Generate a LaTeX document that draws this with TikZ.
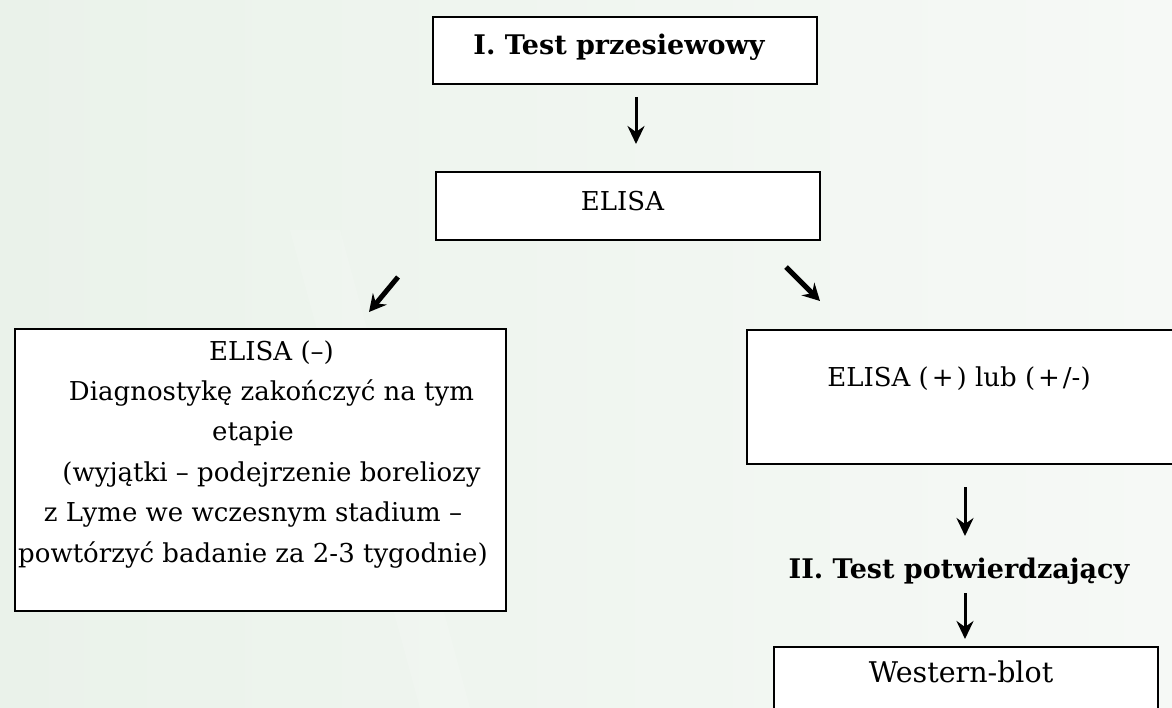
\documentclass[tikz,border=0pt]{standalone}
\usepackage{fontspec}
\setmainfont{DejaVu Serif}
\usetikzlibrary{arrows.meta}
\definecolor{bgL}{HTML}{EAF2EA}
\definecolor{bgR}{HTML}{F6F9F6}
\begin{document}
\begin{tikzpicture}[x=1pt,y=-1pt,
  box/.style={draw=black,line width=1.3pt,fill=white,inner sep=0pt},
  txt/.style={font=\fontsize{26}{40.4}\selectfont,anchor=base,inner sep=0pt},
  btxt/.style={font=\fontsize{27}{40}\selectfont\bfseries,anchor=base,inner sep=0pt},
  varrow/.style={line width=3pt,-{Stealth[length=18pt,width=17pt,inset=6pt]}},
  darrow/.style={line width=5pt,-{Stealth[length=17pt,width=18pt,inset=6pt]}}]
\clip (0,0) rectangle (1172,708);
\shade[left color=bgL,right color=bgR] (0,0) rectangle (1172,708);
\fill[white,opacity=0.15] (290,230) -- (340,230) -- (470,708) -- (420,708) -- cycle;

% boxes
\node[box,minimum width=384pt,minimum height=67pt] (b1) at (625,50.5) {};
\node[box,minimum width=384pt,minimum height=68pt] (b2) at (628,206) {};
\node[box,minimum width=491pt,minimum height=282pt] (b3) at (260.5,470) {};
\node[box,minimum width=450pt,minimum height=134pt] (b4) at (972,397) {};
\node[box,minimum width=384pt,minimum height=80pt] (b5) at (966,687) {};

% texts
\node[btxt] (t1) at (619,55) {I. Test przesiewowy};
\node[txt] (t2) at (622.5,211) {ELISA};
\node[txt,align=center] (t3) at (253,562) {\hspace*{37pt}ELISA (–)\\
\hspace*{37pt}Diagnostykę zakończyć na tym\\
etapie\\
\hspace*{37pt}(wyjątki – podejrzenie boreliozy\\
z Lyme we wczesnym stadium –\\
powtórzyć badanie za 2-3 tygodnie)};
\node[txt] (t4) at (959,386) {ELISA (\kern3pt+\kern3pt) lub (\kern3pt+\kern3pt/-)};
\node[btxt] (t5) at (959,578) {II. Test potwierdzający};
\node[txt,font=\fontsize{28.5}{34}\selectfont] (t6) at (961,682) {Western-blot};

% arrow end points
\coordinate (a1s) at (636,97);  \coordinate (a1e) at (636,144);
\coordinate (a2s) at (398,277); \coordinate (a2e) at (369,312);
\coordinate (a3s) at (786,267); \coordinate (a3e) at (820,301);
\coordinate (a4s) at (965,487); \coordinate (a4e) at (965,536);
\coordinate (a5s) at (965,593); \coordinate (a5e) at (965,639);

\draw[varrow] (a1s) -- (a1e);
\draw[darrow] (a2s) -- (a2e);
\draw[darrow] (a3s) -- (a3e);
\draw[varrow] (a4s) -- (a4e);
\draw[varrow] (a5s) -- (a5e);
\end{tikzpicture}
\end{document}
